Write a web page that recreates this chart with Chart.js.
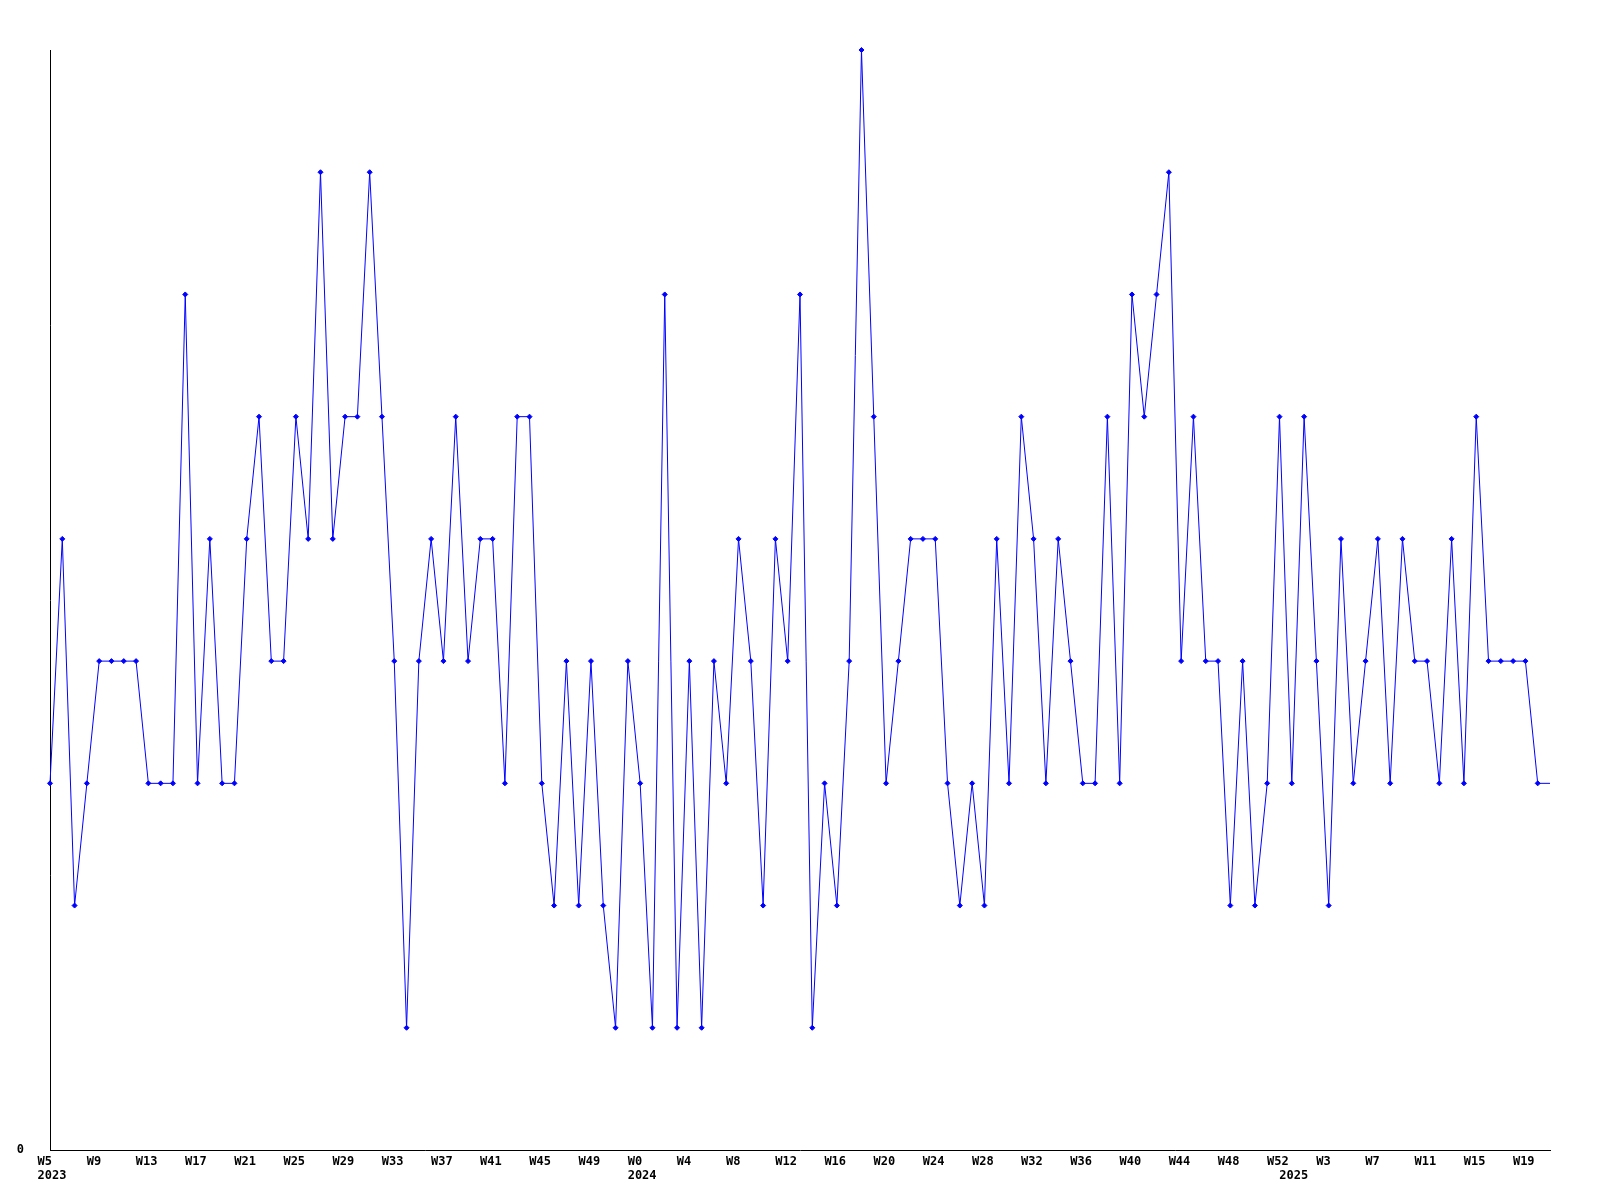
<!DOCTYPE html>
<html>
<head>
<meta charset="utf-8">
<script src="https://cdn.jsdelivr.net/npm/chart.js@4.4.1/dist/chart.umd.min.js"></script>
<style>
  html, body { margin: 0; padding: 0; background: #ffffff; }
  #wrap { width: 1600px; height: 1200px; }
</style>
</head>
<body>
<div id="wrap"><canvas id="c" width="1600" height="1200"></canvas></div>
<script>
// ---- data ----
const years = ['2023', '2024', '2025'];
const yearFirstWeek = [5, 0, 0];
const yearLastWeek = [52, 52, 21];

const values = [
  3, 5, 2, 3, 4, 4, 4, 4, 3, 3,
  3, 7, 3, 5, 3, 3, 5, 6, 4, 4,
  6, 5, 8, 5, 6, 6, 8, 6, 4, 1,
  4, 5, 4, 6, 4, 5, 5, 3, 6, 6,
  3, 2, 4, 2, 4, 2, 1, 4, 3, 1,
  7, 1, 4, 1, 4, 3, 5, 4, 2, 5,
  4, 7, 1, 3, 2, 4, 9, 6, 3, 4,
  5, 5, 5, 3, 2, 3, 2, 5, 3, 6,
  5, 3, 5, 4, 3, 3, 6, 3, 7, 6,
  7, 8, 4, 6, 4, 4, 2, 4, 2, 3,
  6, 3, 6, 4, 2, 5, 3, 4, 5, 3,
  5, 4, 4, 3, 5, 3, 6, 4, 4, 4,
  4, 3, 3
];

const yTickLabels = ['0'];
const tickEvery = 4;

// ---- build categories from the small arrays ----
const categories = [];
const yearOfIndex = [];
const yearStartIndex = [];
years.forEach((y, yi) => {
  yearStartIndex.push(categories.length);
  for (let w = yearFirstWeek[yi]; w <= yearLastWeek[yi]; w++) {
    categories.push('W' + w);
    yearOfIndex.push(y);
  }
});

const FONT = { family: '"DejaVu Sans Mono", "Liberation Mono", monospace', size: 12, weight: 'bold', lineHeight: '14px' };

new Chart(document.getElementById('c'), {
  type: 'line',
  data: {
    labels: categories,
    datasets: [{
      data: values,
      clip: false,
      borderColor: '#0000ff',
      backgroundColor: '#0000ff',
      borderWidth: 1,
      tension: 0,
      fill: false,
      pointStyle: 'rectRot',
      pointRadius: (ctx) => ctx.dataIndex === values.length - 1 ? 0 : 2.5,
      pointBorderWidth: 1,
      pointBorderColor: '#0000ff',
      pointBackgroundColor: '#0000ff'
    }]
  },
  options: {
    responsive: false,
    animation: false,
    events: [],
    layout: { padding: { top: 50, right: 50, bottom: 0, left: 0 } },
    plugins: { legend: { display: false }, tooltip: { enabled: false } },
    scales: {
      x: {
        type: 'category',
        offset: false,
        grid: { display: false, drawTicks: false },
        border: { display: true, color: '#000000', width: 1 },
        ticks: {
          autoSkip: false,
          maxRotation: 0,
          minRotation: 0,
          align: 'start',
          labelOffset: -12.5,
          padding: 5,
          color: '#000000',
          font: FONT,
          callback: function (value, index) {
            const wk = index % tickEvery === 0 ? categories[index] : '';
            if (yearStartIndex.includes(index)) return [wk, yearOfIndex[index]];
            return wk;
          }
        },
        afterFit: (scale) => { scale.height = 50; }
      },
      y: {
        min: 0,
        max: 9,
        grid: { display: false, drawTicks: false },
        border: { display: true, color: '#000000', width: 1 },
        afterBuildTicks: (scale) => { scale.ticks = yTickLabels.map(t => ({ value: Number(t) })); },
        ticks: {
          padding: 26,
          color: '#000000',
          font: FONT,
          callback: (v) => String(v)
        },
        afterFit: (scale) => { scale.width = 50; }
      }
    }
  }
});
</script>
</body>
</html>
